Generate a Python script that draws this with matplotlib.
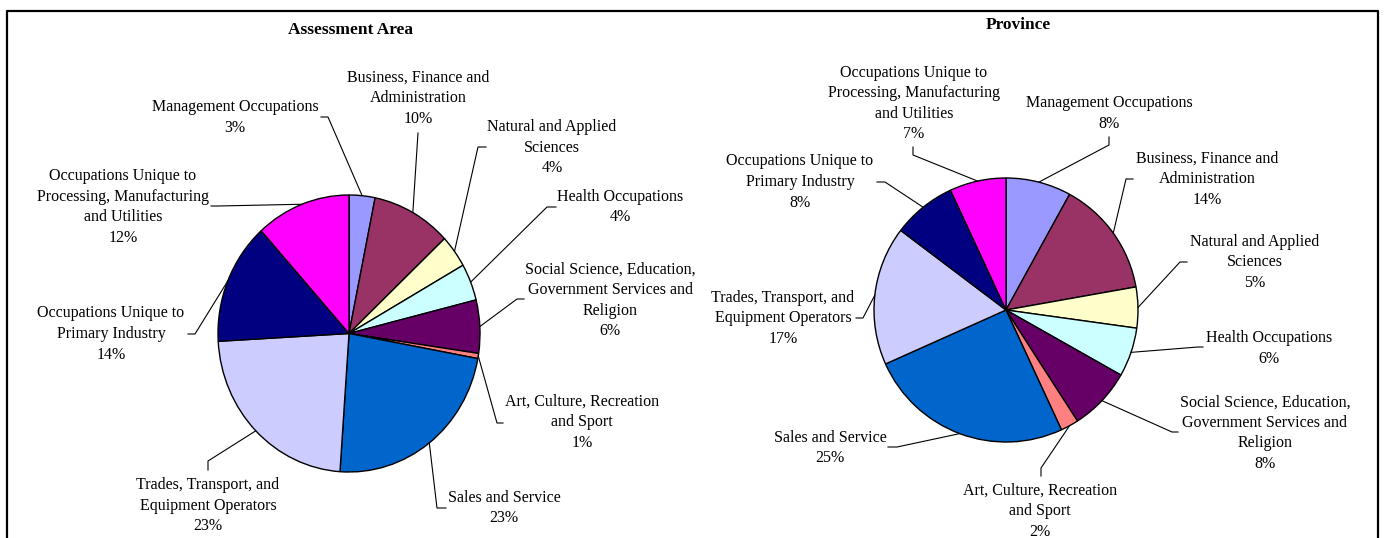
import matplotlib.pyplot as plt
import numpy as np

W, H = 1384, 538

# Occupation groups (line breaks as shown in the chart labels)
categories = [
    'Management Occupations',
    'Business, Finance and\nAdministration',
    'Natural and Applied\nSciences',
    'Health Occupations',
    'Social Science, Education,\nGovernment Services and\nReligion',
    'Art, Culture, Recreation\nand Sport',
    'Sales and Service',
    'Trades, Transport, and\nEquipment Operators',
    'Occupations Unique to\nPrimary Industry',
    'Occupations Unique to\nProcessing, Manufacturing\nand Utilities',
]

# Share of labour force (%)
assessment_pct = [3.2, 9.8, 3.8, 4.3, 6.2, 0.6, 23.2, 23.0, 14.2, 11.7]
province_pct = [8.0, 14.2, 5.0, 6.0, 7.7, 2.2, 25.2, 17.0, 7.8, 6.9]

colors = ['#9999FF', '#993366', '#FFFFCC', '#CCFFFF', '#660066',
          '#FF8080', '#0066CC', '#CCCCFF', '#000080', '#FF00FF']

# label placement in pixels: text x, text y, leader elbow x/y, leader end x/y
left_layout = [
    (235, 117.5, 328, 117, 321, 117),
    (418, 98, 418, 133, 418, 133),
    (552, 147.5, 478, 147, 486, 147),
    (620, 207, 547, 207, 556, 207),
    (610, 300.5, 517, 299, 524, 299),
    (582, 422.5, 497, 423, 503, 423),
    (504, 508, 437, 508, 446, 508),
    (208, 505.5, 208, 461, 208, 470),
    (111, 334, 195, 334, 188, 334),
    (123, 207, 218, 206, 211, 206),
]
right_layout = [
    (1109, 113.5, 1109, 145, 1109, 137),
    (1207, 179, 1126, 179, 1133, 179),
    (1255, 262.5, 1180, 262, 1187, 262),
    (1269, 348.5, 1198, 347, 1203, 347),
    (1265, 433, 1172, 432, 1178, 432),
    (1040, 511, 1041, 468, 1041, 476),
    (830, 448, 897, 447, 888, 447),
    (783, 318.5, 863, 318, 856, 318),
    (800, 182, 885, 182, 877, 182),
    (914, 103.5, 913, 155, 913, 147),
]

plt.rcParams['font.family'] = ['Liberation Serif', 'DejaVu Serif']

fig = plt.figure(figsize=(W / 100, H / 100), dpi=100)
over = fig.add_axes([0, 0, 1, 1], zorder=2)
over.set_xlim(0, W)
over.set_ylim(H, 0)
over.axis('off')
over.patch.set_alpha(0)


def draw_pie(values, box, layout, title, title_xy):
    x0, y0, x1, y1 = box
    ax = fig.add_axes([x0 / W, 1 - y1 / H, (x1 - x0) / W, (y1 - y0) / H], zorder=1)
    wedges, _ = ax.pie(values, colors=colors, startangle=90, counterclock=False,
                       radius=1, wedgeprops=dict(edgecolor='black', linewidth=1.0))
    ax.set_aspect('auto')
    ax.set_xlim(-1, 1)
    ax.set_ylim(-1, 1)
    ax.axis('off')

    to_over = ax.transData + over.transData.inverted()
    for w, lab, v, (tx, ty, ex, ey, kx, ky) in zip(wedges, categories, values, layout):
        ang = np.deg2rad((w.theta1 + w.theta2) / 2)
        px, py = to_over.transform((np.cos(ang), np.sin(ang)))
        over.plot([px, ex, kx], [py, ey, ky], color='black', lw=0.8)
        over.text(tx, ty, f'{lab}\n{v:.0f}%', ha='center', va='center',
                  fontsize=11.5, linespacing=1.38, multialignment='center')
    over.text(title_xy[0], title_xy[1], title, ha='center', va='center',
              fontsize=12.5, fontweight='bold')


draw_pie(assessment_pct, (218, 195, 480, 472), left_layout, 'Assessment Area', (350, 30))
draw_pie(province_pct, (874, 178, 1138, 442), right_layout, 'Province', (1018, 25))

# outer frame
over.plot([7, 7, 1378, 1378], [H + 5, 11, 11, H + 5], color='black', lw=1.6, clip_on=False)

fig.savefig('out.png', dpi=100)
